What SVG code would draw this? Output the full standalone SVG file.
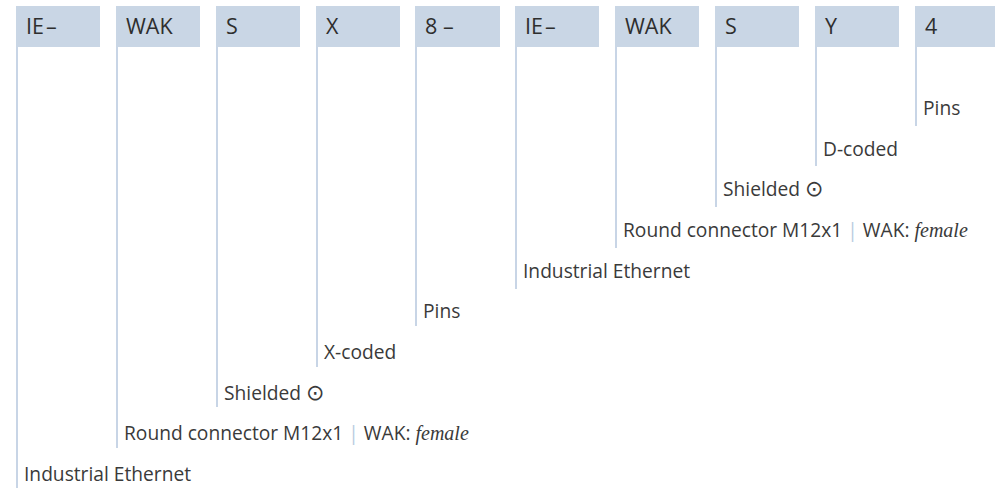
<svg xmlns="http://www.w3.org/2000/svg" width="995" height="488" viewBox="0 0 995 488">
<style>
.box{fill:#c9d6e5}
.bt{font-family:"Open Sans","Noto Sans",sans-serif;font-size:21.5px;fill:#2e2e2e}
.lt{font-family:"Open Sans","Noto Sans",sans-serif;font-size:19.2px;fill:#3a3a3a}
.fem{font-family:"Liberation Serif",serif;font-style:italic;font-size:20px}
.sym{font-family:"DejaVu Sans",sans-serif;font-size:22px}
.sep{fill:#b9cbe0}
.ln{stroke:#c8d5e6;stroke-width:2;fill:none}
</style>
<rect width="995" height="488" fill="#fff"/>
<g id="connectors">
<line class="ln" x1="17" y1="46" x2="17" y2="488"/>
<line class="ln" x1="117" y1="46" x2="117" y2="448"/>
<line class="ln" x1="217" y1="46" x2="217" y2="407"/>
<line class="ln" x1="317" y1="46" x2="317" y2="367"/>
<line class="ln" x1="416" y1="46" x2="416" y2="326"/>
<line class="ln" x1="516" y1="46" x2="516" y2="289"/>
<line class="ln" x1="616" y1="46" x2="616" y2="248"/>
<line class="ln" x1="716" y1="46" x2="716" y2="207"/>
<line class="ln" x1="816" y1="46" x2="816" y2="166"/>
<line class="ln" x1="916" y1="46" x2="916" y2="126"/>
</g>
<g id="n1"><rect class="box" x="16" y="6" width="84" height="41"/><text class="bt" x="26" y="34">IE<tspan dx="2">–</tspan></text><text class="lt" x="24" y="481">Industrial Ethernet</text></g>
<g id="n2"><rect class="box" x="116" y="6" width="84" height="41"/><text class="bt" x="126" y="34">WAK</text><text class="lt" x="124" y="440">Round connector M12x1<tspan class="sep" dx="5">|</tspan><tspan dx="5">WAK: </tspan><tspan class="fem">female</tspan></text></g>
<g id="n3"><rect class="box" x="216" y="6" width="84" height="41"/><text class="bt" x="226" y="34">S</text><text class="lt" x="224" y="400">Shielded <tspan class="sym">⊙</tspan></text></g>
<g id="n4"><rect class="box" x="316" y="6" width="84" height="41"/><text class="bt" x="326" y="34">X</text><text class="lt" x="324" y="359">X-coded</text></g>
<g id="n5"><rect class="box" x="415" y="6" width="85" height="41"/><text class="bt" x="425" y="34">8 –</text><text class="lt" x="423" y="318">Pins</text></g>
<g id="n6"><rect class="box" x="515" y="6" width="84" height="41"/><text class="bt" x="525" y="34">IE<tspan dx="2">–</tspan></text><text class="lt" x="523" y="278">Industrial Ethernet</text></g>
<g id="n7"><rect class="box" x="615" y="6" width="84" height="41"/><text class="bt" x="625" y="34">WAK</text><text class="lt" x="623" y="237">Round connector M12x1<tspan class="sep" dx="5">|</tspan><tspan dx="5">WAK: </tspan><tspan class="fem">female</tspan></text></g>
<g id="n8"><rect class="box" x="715" y="6" width="84" height="41"/><text class="bt" x="725" y="34">S</text><text class="lt" x="723" y="196">Shielded <tspan class="sym">⊙</tspan></text></g>
<g id="n9"><rect class="box" x="815" y="6" width="84" height="41"/><text class="bt" x="825" y="34">Y</text><text class="lt" x="823" y="156">D-coded</text></g>
<g id="n10"><rect class="box" x="915" y="6" width="84" height="41"/><text class="bt" x="925" y="34">4</text><text class="lt" x="923" y="115">Pins</text></g>
</svg>
